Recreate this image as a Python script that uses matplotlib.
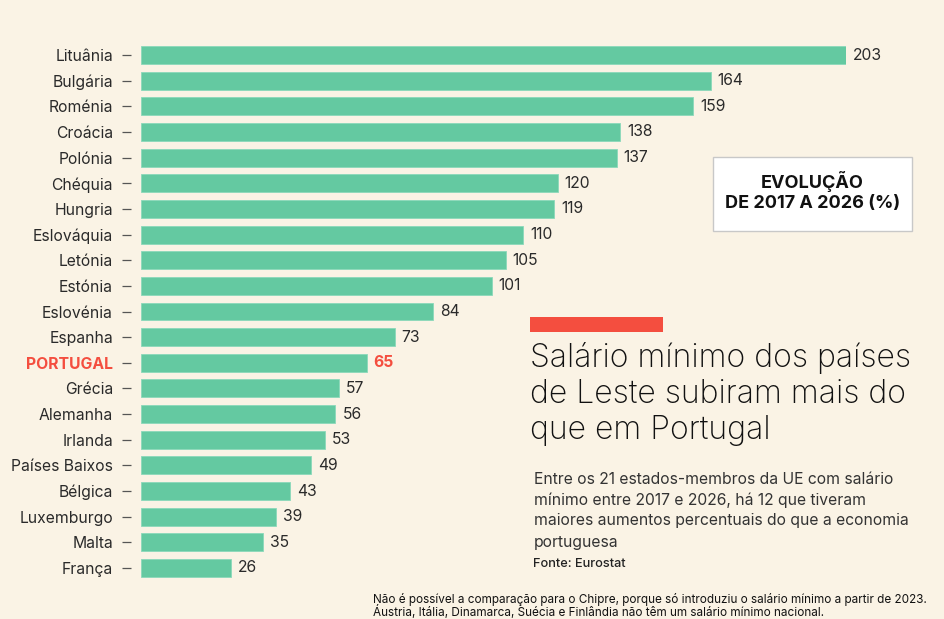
import matplotlib
matplotlib.use("Agg")
import matplotlib.pyplot as plt
from matplotlib.patches import Rectangle

countries = ["Lituânia", "Bulgária", "Roménia", "Croácia", "Polónia", "Chéquia",
             "Hungria", "Eslováquia", "Letónia", "Estónia", "Eslovénia", "Espanha",
             "PORTUGAL", "Grécia", "Alemanha", "Irlanda", "Países Baixos", "Bélgica",
             "Luxemburgo", "Malta", "França"]
values = [203, 164, 159, 138, 137, 120, 119, 110, 105, 101, 84, 73, 65, 57, 56,
          53, 49, 43, 39, 35, 26]
highlight = "PORTUGAL"

BG = "#FAF3E5"
BAR = "#64C9A1"
RED = "#F44E3F"
TXT = "#2A2A2A"
FONT = "Inter"

W, H = 945, 619
fig = plt.figure(figsize=(W / 100, H / 100), dpi=100, facecolor=BG)

def fx(px):
    return px / W

def fy(py):
    return 1 - py / H

# axes in pixel coordinates
left_px, right_px = 141, 846
top_px, bot_px = 42.2, 580.8
ax = fig.add_axes([fx(left_px), fy(bot_px), fx(right_px - left_px), (bot_px - top_px) / H])
ax.set_facecolor("none")

y = list(range(len(countries)))
ax.barh(y, values, height=0.7, color=BAR, edgecolor="#8BD9BA", linewidth=0.6)
ax.set_xlim(0, values[0])
ax.set_ylim(len(countries) - 0.5, -0.5)

for s in ax.spines.values():
    s.set_visible(False)
ax.spines["left"].set_position(("outward", 7.2))
ax.set_xticks([])
ax.set_yticks(y)
ax.set_yticklabels(countries, fontfamily=FONT, fontsize=11.3, color=TXT)
ax.tick_params(axis="y", length=6.5, width=0.9, color="#555555", pad=6.5)
for lbl in ax.get_yticklabels():
    if lbl.get_text() == highlight:
        lbl.set_color(RED)
        lbl.set_fontweight("bold")

for i, (c, v) in enumerate(zip(countries, values)):
    hl = c == highlight
    ax.annotate(str(v), xy=(v, i), xytext=(7, 0), textcoords="offset pixels",
                ha="left", va="center", fontsize=11.3, fontfamily=FONT,
                color=RED if hl else TXT, fontweight="bold" if hl else "normal",
                annotation_clip=False)

# box
fig.patches.append(Rectangle((fx(713), fy(231)), fx(912 - 713), (231 - 157) / H,
                             transform=fig.transFigure, facecolor="white",
                             edgecolor="#C8C8C8", linewidth=1))
fig.text(fx(812.5), fy(182), "EVOLUÇÃO", ha="center", va="center",
         fontsize=13, fontweight="bold", fontfamily=FONT, color="#111111")
fig.text(fx(812.5), fy(203), "DE 2017 A 2026 (%)", ha="center", va="center",
         fontsize=13, fontweight="bold", fontfamily=FONT, color="#111111")

# red accent
fig.patches.append(Rectangle((fx(530), fy(332)), fx(663 - 530), 15 / H,
                             transform=fig.transFigure, facecolor=RED, edgecolor="none"))

title = ["Salário mínimo dos países", "de Leste subiram mais do", "que em Portugal"]
for k, line in enumerate(title):
    fig.text(fx(530), fy(358 + 36 * k), line, ha="left", va="center",
             fontsize=23, fontweight="light", fontfamily=FONT, color="#111111")

sub = ["Entre os 21 estados-membros da UE com salário",
       "mínimo entre 2017 e 2026, há 12 que tiveram",
       "maiores aumentos percentuais do que a economia",
       "portuguesa"]
for k, line in enumerate(sub):
    fig.text(fx(534), fy(479 + 21 * k), line, ha="left", va="center",
             fontsize=11.3, fontfamily=FONT, color="#333333")
fig.text(fx(533), fy(564), "Fonte: Eurostat", ha="left", va="center",
         fontsize=9.2, fontweight="medium", fontfamily=FONT, color="#222222")

notes = ["Não é possível a comparação para o Chipre, porque só introduziu o salário mínimo a partir de 2023.",
         "Áustria, Itália, Dinamarca, Suécia e Finlândia não têm um salário mínimo nacional."]
for k, line in enumerate(notes):
    fig.text(fx(373), fy(600 + 12 * k), line, ha="left", va="center",
             fontsize=8.45, fontfamily=FONT, color="#111111")

fig.savefig("out.png", dpi=100, facecolor=BG)
